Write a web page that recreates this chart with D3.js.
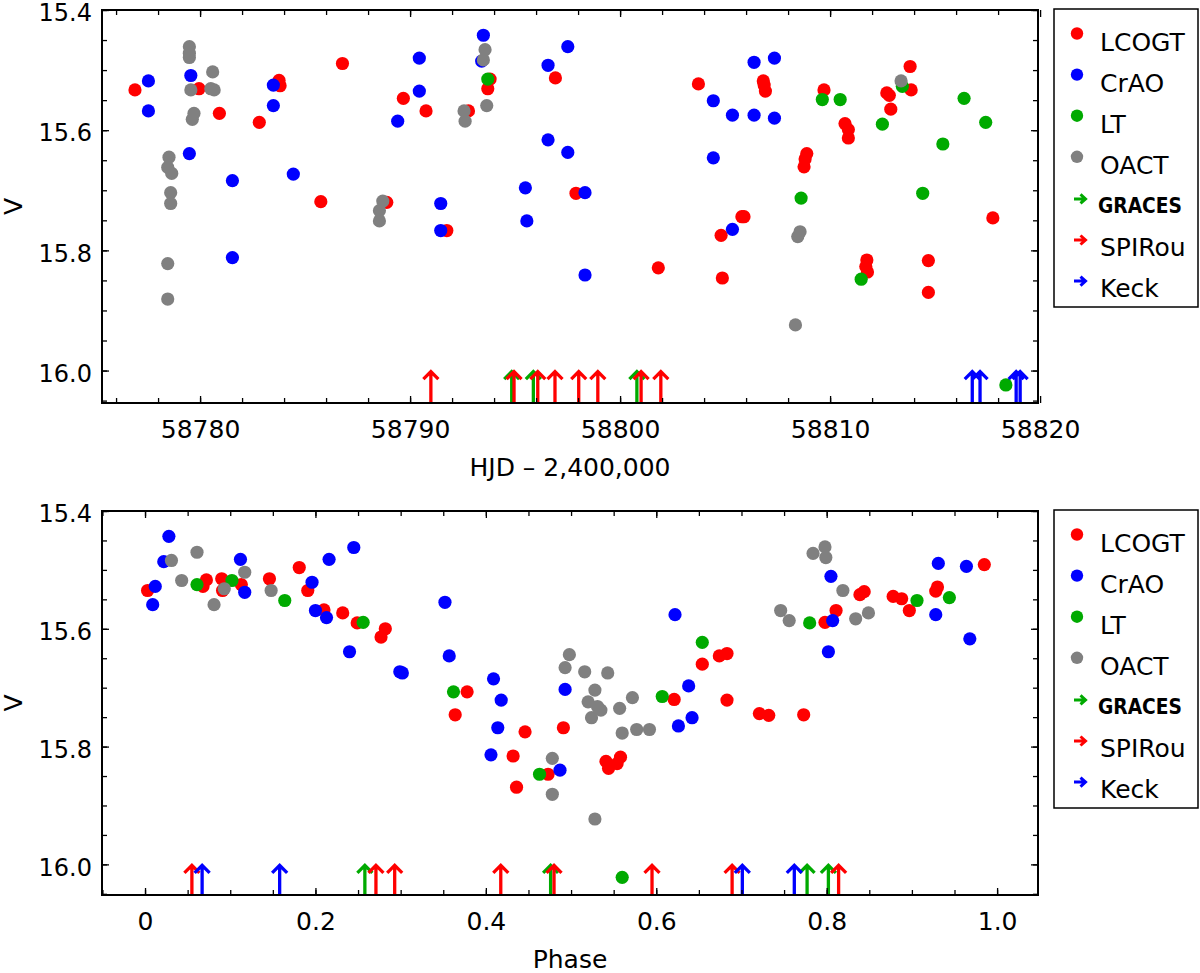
<!DOCTYPE html>
<html>
<head>
<meta charset="utf-8">
<script src="https://cdn.jsdelivr.net/npm/d3@7"></script>
<style>
  html, body { margin: 0; padding: 0; background: #fff; }
  svg { display: block; }
  text { font-family: "DejaVu Sans", "Liberation Sans", sans-serif; fill: #000; }
</style>
</head>
<body>
<svg id="chart" width="1200" height="973"></svg>
<script>
// ---------------- DATA ----------------
// Upper panel: time series, [HJD - 2,400,000, V]
const timeLCOGT = [
  [58776.90, 15.533], [58779.95, 15.531], [58780.92, 15.572], [58782.82, 15.587],
  [58783.76, 15.517], [58783.81, 15.526], [58785.75, 15.719], [58786.78, 15.489],
  [58788.89, 15.720], [58789.68, 15.547], [58790.76, 15.568], [58791.75, 15.767],
  [58792.78, 15.568], [58793.70, 15.531], [58793.81, 15.515], [58796.92, 15.513],
  [58797.90, 15.705], [58801.82, 15.829], [58803.73, 15.523], [58804.81, 15.775],
  [58804.87, 15.846], [58805.80, 15.744], [58805.90, 15.744], [58806.82, 15.518],
  [58806.86, 15.525], [58806.92, 15.535], [58808.76, 15.661], [58808.81, 15.648],
  [58808.89, 15.639], [58809.71, 15.533], [58810.71, 15.589], [58810.87, 15.599],
  [58810.87, 15.613], [58811.70, 15.827], [58811.75, 15.816], [58811.78, 15.836],
  [58812.70, 15.538], [58812.82, 15.542], [58812.89, 15.565], [58813.81, 15.494],
  [58813.86, 15.533], [58814.68, 15.817], [58814.68, 15.870], [58817.75, 15.746]
];
const timeCrAO = [
  [58777.54, 15.518], [58777.54, 15.568], [58779.56, 15.509], [58779.49, 15.639],
  [58781.54, 15.684], [58781.54, 15.812], [58783.49, 15.525], [58783.49, 15.559],
  [58784.44, 15.673], [58789.41, 15.585], [58790.44, 15.480], [58790.44, 15.535],
  [58791.46, 15.722], [58791.46, 15.767], [58793.49, 15.442], [58793.41, 15.485],
  [58795.49, 15.696], [58795.56, 15.751], [58796.57, 15.492], [58796.57, 15.616],
  [58797.51, 15.461], [58797.51, 15.637], [58798.33, 15.704], [58798.33, 15.841],
  [58804.44, 15.551], [58804.44, 15.646], [58805.35, 15.575], [58805.35, 15.765],
  [58806.38, 15.487], [58806.38, 15.575], [58807.35, 15.480], [58807.35, 15.580]
];
const timeLT = [
  [58793.70, 15.515], [58808.62, 15.713], [58809.63, 15.549], [58810.48, 15.549],
  [58811.48, 15.848], [58812.49, 15.590], [58813.44, 15.527], [58814.41, 15.705],
  [58815.37, 15.623], [58816.38, 15.547], [58817.41, 15.587], [58818.37, 16.024]
];
const timeOACT = [
  [58779.49, 15.461], [58779.49, 15.472], [58779.49, 15.479], [58779.56, 15.533],
  [58780.60, 15.503], [58780.51, 15.531], [58780.67, 15.533], [58779.71, 15.572],
  [58779.63, 15.582], [58778.52, 15.645], [58778.46, 15.662], [58778.65, 15.672],
  [58778.60, 15.704], [58778.60, 15.722], [58778.46, 15.822], [58778.46, 15.881],
  [58788.70, 15.718], [58788.54, 15.734], [58788.54, 15.751], [58792.57, 15.568],
  [58792.62, 15.585], [58793.57, 15.466], [58793.49, 15.483], [58793.65, 15.559],
  [58808.57, 15.769], [58808.46, 15.777], [58808.35, 15.924], [58813.38, 15.518]
];
const timeGRACES = [58794.84, 58795.87, 58800.80];
const timeSPIRou = [58790.99, 58794.95, 58796.08, 58796.90, 58798.03, 58798.94, 58801.00, 58801.94];
const timeKeck = [58816.77, 58817.14, 58818.86, 58819.05];

// Lower panel: phase folded, [phase, V]
const phaseLCOGT = [
  [0.003, 15.535], [0.068, 15.528], [0.072, 15.517], [0.090, 15.515], [0.091, 15.535],
  [0.113, 15.525], [0.146, 15.515], [0.181, 15.496], [0.191, 15.535], [0.210, 15.568],
  [0.232, 15.573], [0.249, 15.590], [0.277, 15.614], [0.282, 15.600], [0.364, 15.746],
  [0.378, 15.707], [0.432, 15.816], [0.436, 15.869], [0.446, 15.775], [0.473, 15.847],
  [0.491, 15.768], [0.541, 15.825], [0.544, 15.837], [0.554, 15.829], [0.558, 15.818],
  [0.621, 15.720], [0.654, 15.660], [0.674, 15.646], [0.683, 15.642], [0.683, 15.721],
  [0.721, 15.744], [0.732, 15.747], [0.773, 15.746], [0.798, 15.589], [0.811, 15.569],
  [0.839, 15.542], [0.844, 15.537], [0.878, 15.545], [0.888, 15.549], [0.897, 15.569],
  [0.928, 15.536], [0.930, 15.529], [0.985, 15.491]
];
const phaseCrAO = [
  [0.009, 15.559], [0.012, 15.528], [0.022, 15.486], [0.028, 15.443], [0.112, 15.482],
  [0.117, 15.538], [0.196, 15.521], [0.200, 15.569], [0.213, 15.581], [0.216, 15.482],
  [0.240, 15.639], [0.245, 15.462], [0.299, 15.673], [0.302, 15.675], [0.352, 15.555],
  [0.357, 15.646], [0.406, 15.814], [0.409, 15.685], [0.414, 15.768], [0.418, 15.721],
  [0.487, 15.840], [0.493, 15.703], [0.622, 15.576], [0.626, 15.765], [0.638, 15.697],
  [0.642, 15.751], [0.802, 15.639], [0.805, 15.511], [0.807, 15.586], [0.928, 15.576],
  [0.931, 15.489], [0.964, 15.494], [0.968, 15.617]
];
const phaseLT = [
  [0.061, 15.525], [0.102, 15.518], [0.164, 15.552], [0.256, 15.589], [0.362, 15.707],
  [0.463, 15.847], [0.560, 16.022], [0.607, 15.715], [0.654, 15.623], [0.780, 15.590],
  [0.906, 15.552], [0.944, 15.547]
];
const phaseOACT = [
  [0.031, 15.484], [0.043, 15.518], [0.061, 15.470], [0.081, 15.559], [0.093, 15.532],
  [0.117, 15.504], [0.148, 15.535], [0.478, 15.820], [0.478, 15.881], [0.493, 15.666],
  [0.498, 15.644], [0.516, 15.673], [0.520, 15.724], [0.524, 15.751], [0.528, 15.704],
  [0.528, 15.923], [0.531, 15.732], [0.535, 15.738], [0.543, 15.675], [0.557, 15.735],
  [0.560, 15.777], [0.572, 15.717], [0.577, 15.771], [0.592, 15.771], [0.746, 15.569],
  [0.756, 15.586], [0.784, 15.472], [0.798, 15.461], [0.799, 15.479], [0.819, 15.535],
  [0.834, 15.583], [0.849, 15.573]
];
const phaseGRACES = [0.258, 0.476, 0.777, 0.802];
const phaseSPIRou = [0.055, 0.271, 0.293, 0.4175, 0.480, 0.595, 0.689, 0.814];
const phaseKeck = [0.067, 0.158, 0.701, 0.762];

// Axis tick values and labels
const yMajorTicks = [15.4, 15.6, 15.8, 16.0];
const timeMajorTicks = [58780, 58790, 58800, 58810, 58820];
const phaseMajorTicks = [0, 0.2, 0.4, 0.6, 0.8, 1.0];
const phaseTickLabels = ["0", "0.2", "0.4", "0.6", "0.8", "1.0"];
const legendDotNames = ["LCOGT", "CrAO", "LT", "OACT"];
const legendArrowNames = ["GRACES", "SPIRou", "Keck"];
const arrowLevel = 16.0;

// ---------------- STYLE ----------------
const colors = { LCOGT: "#ff0000", CrAO: "#0000ff", LT: "#00aa00", OACT: "#808080",
                 GRACES: "#00aa00", SPIRou: "#ff0000", Keck: "#0000ff" };

const svg = d3.select("#chart");
svg.append("rect").attr("width", 1200).attr("height", 973).attr("fill", "#fff");

const panels = [
  {
    top: 10, bottom: 403,
    xDomain: [58775.33, 58819.9], yDomain: [15.4, 16.054],
    xMajor: timeMajorTicks, xMinorStep: 2, xFmt: d => String(d),
    xTitle: "HJD \u2013 2,400,000",
    series: { LCOGT: timeLCOGT, CrAO: timeCrAO, LT: timeLT, OACT: timeOACT },
    arrows: { GRACES: timeGRACES, SPIRou: timeSPIRou, Keck: timeKeck }
  },
  {
    top: 511, bottom: 895,
    xDomain: [-0.0505, 1.048], yDomain: [15.4, 16.052],
    xMajor: phaseMajorTicks, xMinorStep: 0.05, xFmt: (d, i) => phaseTickLabels[i],
    xTitle: "Phase",
    series: { LCOGT: phaseLCOGT, CrAO: phaseCrAO, LT: phaseLT, OACT: phaseOACT },
    arrows: { GRACES: phaseGRACES, SPIRou: phaseSPIRou, Keck: phaseKeck }
  }
];

const left = 102, right = 1038;

panels.forEach(p => {
  const x = d3.scaleLinear().domain(p.xDomain).range([left, right]);
  const y = d3.scaleLinear().domain(p.yDomain).range([p.top, p.bottom]);
  const g = svg.append("g");

  // minor tick values
  const xMinor = d3.range(Math.ceil(p.xDomain[0] / p.xMinorStep) * p.xMinorStep, p.xDomain[1], p.xMinorStep)
    .map(v => +v.toFixed(4));
  const yMinor = d3.range(15.4, p.yDomain[1], 0.05).map(v => +v.toFixed(3));

  // data points
  ["LCOGT", "CrAO", "LT", "OACT"].forEach(name => {
    g.append("g").selectAll("circle").data(p.series[name]).join("circle")
      .attr("cx", d => x(d[0])).attr("cy", d => y(d[1])).attr("r", 6.6)
      .attr("fill", colors[name]);
  });

  // upward arrows
  ["GRACES", "SPIRou", "Keck"].forEach(name => {
    g.append("g").selectAll("path").data(p.arrows[name]).join("path")
      .attr("d", d => {
        const xx = x(d), tip = y(arrowLevel), b = p.bottom;
        return `M${xx},${b}L${xx},${tip + 1}M${xx - 7.5},${tip + 8.5}L${xx},${tip + 1}L${xx + 7.5},${tip + 8.5}`;
      })
      .attr("fill", "none").attr("stroke", colors[name]).attr("stroke-width", 3.3);
  });

  // axes: ticks inward on all four sides
  const tickStyle = sel => {
    sel.select(".domain").remove();
    sel.selectAll(".tick line").attr("stroke", "#000").attr("stroke-width", 1.3);
  };
  // minor ticks
  g.append("g").attr("transform", `translate(0,${p.bottom})`)
    .call(d3.axisBottom(x).tickValues(xMinor).tickSize(-5).tickFormat("")).call(tickStyle);
  g.append("g").attr("transform", `translate(0,${p.top})`)
    .call(d3.axisTop(x).tickValues(xMinor).tickSize(-5).tickFormat("")).call(tickStyle);
  g.append("g").attr("transform", `translate(${left},0)`)
    .call(d3.axisLeft(y).tickValues(yMinor).tickSize(-5).tickFormat("")).call(tickStyle);
  g.append("g").attr("transform", `translate(${right},0)`)
    .call(d3.axisRight(y).tickValues(yMinor).tickSize(-5).tickFormat("")).call(tickStyle);
  // major ticks with labels
  const xb = g.append("g").attr("transform", `translate(0,${p.bottom})`)
    .call(d3.axisBottom(x).tickValues(p.xMajor).tickSize(-7).tickFormat(p.xFmt)).call(tickStyle);
  xb.selectAll("text").attr("font-size", 25).attr("y", 25.5).attr("dy", "0.36em")
    .attr("font-family", "DejaVu Sans");
  g.append("g").attr("transform", `translate(0,${p.top})`)
    .call(d3.axisTop(x).tickValues(p.xMajor).tickSize(-7).tickFormat("")).call(tickStyle);
  const yl = g.append("g").attr("transform", `translate(${left},0)`)
    .call(d3.axisLeft(y).tickValues(yMajorTicks).tickSize(-7).tickFormat(d3.format(".1f"))).call(tickStyle);
  yl.selectAll("text").attr("font-size", 24).attr("x", -10).attr("dy", "0.45em")
    .attr("font-family", "DejaVu Sans");
  g.append("g").attr("transform", `translate(${right},0)`)
    .call(d3.axisRight(y).tickValues(yMajorTicks).tickSize(-7).tickFormat("")).call(tickStyle);

  // frame
  g.append("rect").attr("x", left).attr("y", p.top).attr("width", right - left)
    .attr("height", p.bottom - p.top).attr("fill", "none").attr("stroke", "#000").attr("stroke-width", 2);

  // titles
  g.append("text").attr("x", (left + right) / 2).attr("y", p.bottom + 64).attr("dy", "0.36em")
    .attr("text-anchor", "middle").attr("font-size", 25).text(p.xTitle);
  g.append("text").attr("transform", `translate(13,${(p.top + p.bottom) / 2}) rotate(-90)`)
    .attr("dy", "0.36em").attr("text-anchor", "middle").attr("font-size", 25).text("V");

  // legend
  const lg = g.append("g");
  lg.append("rect").attr("x", 1054).attr("y", p.top - 1).attr("width", 144).attr("height", 298)
    .attr("fill", "#fff").attr("stroke", "#000").attr("stroke-width", 1.5);
  const rowY = i => p.top + 31.5 + i * 41.1;
  legendDotNames.forEach((name, i) => {
    lg.append("circle").attr("cx", 1077).attr("cy", rowY(i) - 8).attr("r", 6.2).attr("fill", colors[name]);
    lg.append("text").attr("x", 1100).attr("y", rowY(i)).attr("dy", "0.36em")
      .attr("font-size", 25).text(name);
  });
  legendArrowNames.forEach((name, j) => {
    const i = j + 4, cy = rowY(i) - 7;
    lg.append("path")
      .attr("d", `M1074,${cy}L1085,${cy}M1080.5,${cy - 4.5}L1085.5,${cy}L1080.5,${cy + 4.5}`)
      .attr("fill", "none").attr("stroke", colors[name]).attr("stroke-width", 3);
    const t = lg.append("text").attr("x", 1100).attr("y", rowY(i)).attr("dy", "0.36em").text(name);
    if (name === "GRACES") {
      t.attr("font-size", 21).attr("font-weight", "bold")
       .attr("textLength", 84).attr("lengthAdjust", "spacingAndGlyphs")
       .attr("x", 1098);
    } else {
      t.attr("font-size", 25);
    }
  });
});
</script>
</body>
</html>
